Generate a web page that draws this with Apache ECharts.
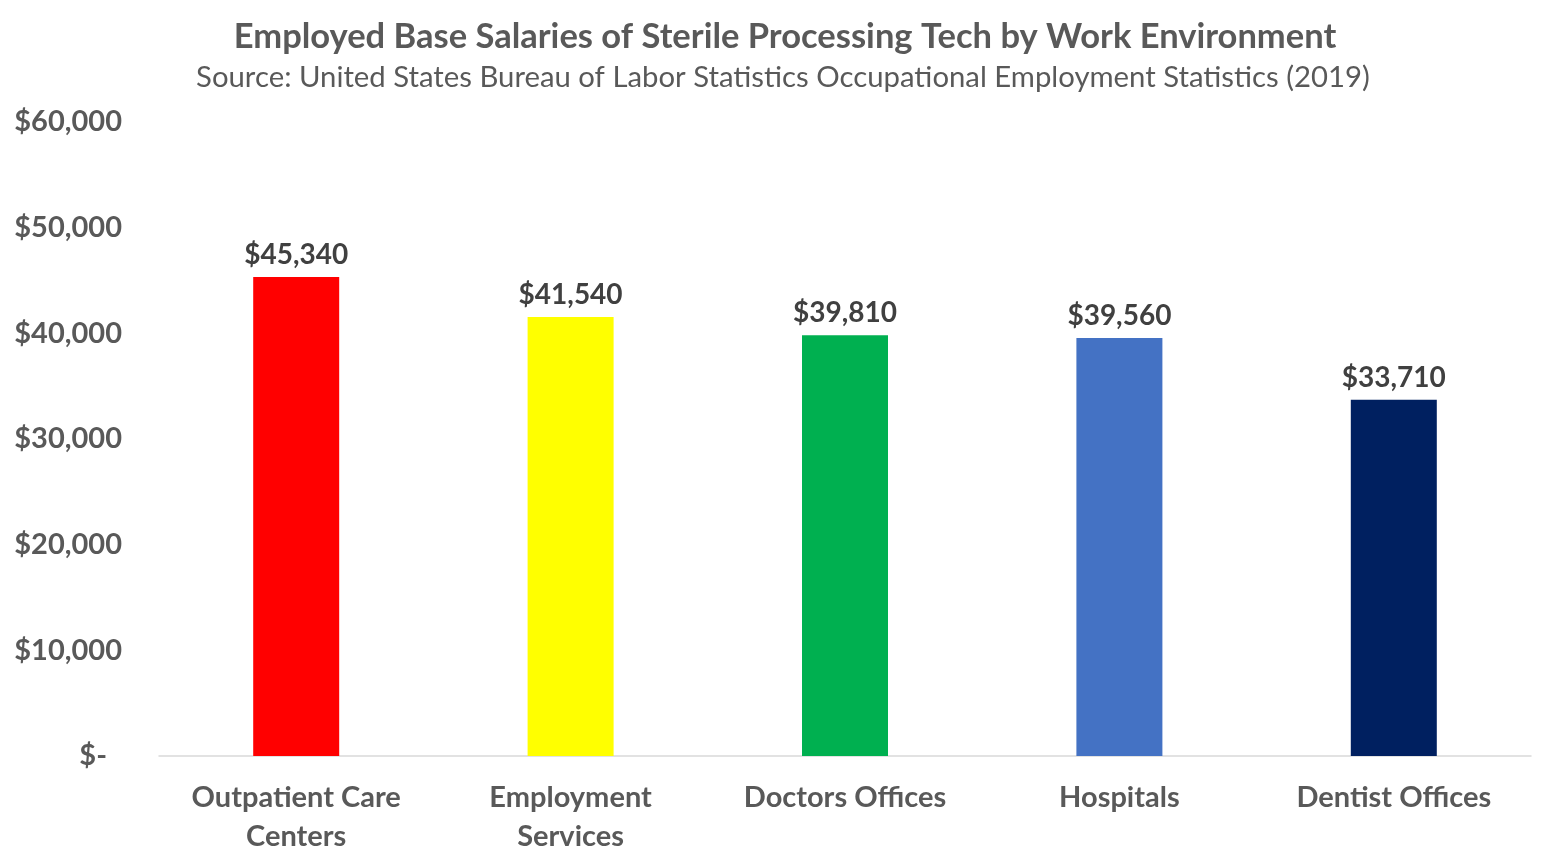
<!DOCTYPE html>
<html>
<head>
<meta charset="utf-8">
<script src="https://cdn.jsdelivr.net/npm/echarts@6/dist/echarts.min.js"></script>
<style>
  html, body { margin: 0; padding: 0; background: #fff; }
  #chart { width: 1546px; height: 865px; }
</style>
</head>
<body>
<div id="chart"></div>
<script>
// 数据
const categories = ['Outpatient Care\nCenters', 'Employment\nServices', 'Doctors Offices', 'Hospitals', 'Dentist Offices']
const salaries = [45340, 41540, 39810, 39560, 33710]
const barColors = ['#FF0000', '#FFFF00', '#00B050', '#4472C4', '#002060']

const font = 'Lato, "Open Sans", sans-serif'

function money(v) {
    return '$' + v.toLocaleString('en-US')
}

const myChart = echarts.init(document.querySelector('#chart'))
const option = {
    backgroundColor: '#fff',
    textStyle: { fontFamily: font },
    title: [
        {
            text: 'Employed Base Salaries of Sterile Processing Tech by Work Environment',
            left: 780,
            top: 14,
            textAlign: 'center',
            textStyle: { fontSize: 34.5, fontWeight: 'bold', color: '#595959', fontFamily: font }
        },
        {
            text: 'Source: United States Bureau of Labor Statistics Occupational Employment Statistics (2019)',
            left: 778,
            top: 58,
            textAlign: 'center',
            textStyle: { fontSize: 29.3, fontWeight: 'normal', color: '#595959', fontFamily: font }
        }
    ],
    grid: { left: 159, right: 15, top: 122, bottom: 109 },
    xAxis: {
        type: 'category',
        data: categories,
        axisLine: { lineStyle: { color: '#D9D9D9', width: 1.5 } },
        axisTick: { show: false },
        axisLabel: {
            fontSize: 29,
            fontWeight: 'bold',
            color: '#595959',
            margin: 22,
            lineHeight: 39,
            interval: 0
        }
    },
    yAxis: {
        type: 'value',
        min: 0,
        max: 60000,
        interval: 10000,
        splitLine: { show: false },
        axisLine: { show: false },
        axisTick: { show: false },
        axisLabel: {
            fontSize: 29,
            fontWeight: 'bold',
            color: '#595959',
            margin: 37,
            formatter: v => v === 0 ? '{z|$-}' : money(v),
            rich: {
                z: { fontSize: 29, fontWeight: 'bold', color: '#595959', padding: [0, 15, 0, 0], fontFamily: font }
            }
        }
    },
    series: [
        {
            type: 'bar',
            barWidth: 86,
            data: salaries.map((v, i) => ({ value: v, itemStyle: { color: barColors[i] } })),
            label: {
                show: true,
                position: 'top',
                distance: 8,
                fontSize: 28,
                fontWeight: 'bold',
                color: '#404040',
                fontFamily: font,
                formatter: p => money(p.value)
            }
        }
    ]
}
myChart.setOption(option)
</script>
</body>
</html>
